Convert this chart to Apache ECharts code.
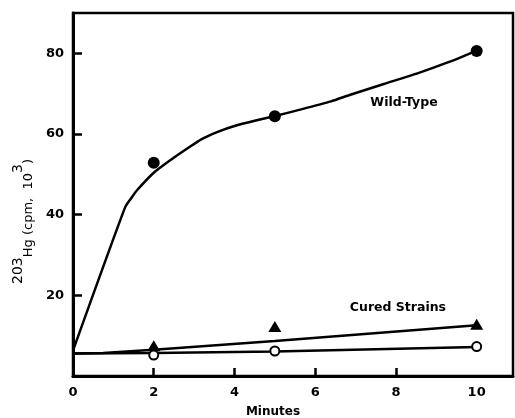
<!DOCTYPE html>
<html>
<head>
<meta charset="utf-8">
<script src="https://cdn.jsdelivr.net/npm/echarts@6/dist/echarts.min.js"></script>
<style>html,body{margin:0;padding:0;background:#fff}#c{width:515px;height:418px}</style>
</head>
<body>
<div id="c"></div>
<script>
// Data
var xTickLabels = [0, 2, 4, 6, 8, 10];
var yTickLabels = [20, 40, 60, 80];
var minutes = [2, 5, 10];
var wildTypeValues = [52.9, 64.4, 80.6];
var curedTriangleValues = [7.5, 12.3, 12.8];
var curedCircleValues = [5.2, 6.2, 7.3];
// hand-drawn curves
var wildCurveX = [0, 1.29, 1.45, 1.58, 2.0, 2.41, 2.83, 3.2, 3.6, 4.0, 4.5, 4.98, 5.65, 6.39, 6.89, 7.7, 8.55, 9.3, 9.96];
var wildCurveY = [6.3, 41.8, 44.2, 46.0, 50.4, 53.5, 56.4, 58.8, 60.6, 62.0, 63.3, 64.4, 66.1, 68.1, 69.8, 72.4, 75.1, 77.8, 80.5];
var triCurveX = [0, 0.75, 2.0, 5.0, 10.0];
var triCurveY = [5.6, 5.7, 6.5, 8.7, 12.6];
var circCurveX = [0, 2.0, 5.0, 10.0];
var circCurveY = [5.6, 5.7, 6.1, 7.2];
var annotations = [["Wild-Type", 8.2, 67.8], ["Cured Strains", 8.05, 16.8]];

function pairs(xs, ys) { return xs.map(function (x, i) { return [x, ys[i]]; }); }

var FONT = 'DejaVu Sans';
var chart = echarts.init(document.getElementById('c'), null, {renderer: 'canvas'});
chart.setOption({
  animation: false,
  backgroundColor: '#fff',
  grid: {left: 73, right: 2, top: 13, bottom: 42, show: true, borderColor: '#000', borderWidth: 2.5,
    backgroundColor: 'transparent', containLabel: false, outerBoundsMode: 'none'},
  xAxis: {
    type: 'value', min: 0, max: 10.9, interval: 2,
    name: 'Minutes', nameLocation: 'middle', nameGap: 30,
    nameTextStyle: {fontFamily: FONT, fontWeight: 'bold', fontSize: 12, color: '#000', padding: [0, 40, 0, 0]},
    axisLine: {show: true, lineStyle: {color: '#000', width: 3}},
    axisTick: {show: true, inside: true, length: 8, lineStyle: {color: '#000', width: 2.5}, customValues: [2, 4, 6, 8]},
    axisLabel: {fontFamily: FONT, fontWeight: 'bold', fontSize: 13, color: '#000', margin: 10, customValues: xTickLabels},
    splitLine: {show: false}
  },
  yAxis: {
    type: 'value', min: 0, max: 90, interval: 20,
    name: '{sup|203}{base|Hg (cpm,  10}{sup|3}{base|)}', nameLocation: 'middle', nameGap: 38, nameRotate: 90,
    nameTextStyle: {
      color: '#000', padding: [0, 54, 0, 0],
      rich: {
        sup: {fontFamily: FONT, fontSize: 14, color: '#000', lineHeight: 12, verticalAlign: 'top'},
        base: {fontFamily: FONT, fontSize: 13, color: '#000', lineHeight: 24, verticalAlign: 'bottom'}
      }
    },
    axisLine: {show: true, lineStyle: {color: '#000', width: 3}},
    axisTick: {show: true, inside: true, length: 9, lineStyle: {color: '#000', width: 2.5}, customValues: yTickLabels},
    axisLabel: {fontFamily: FONT, fontWeight: 'bold', fontSize: 13, color: '#000', margin: 9, customValues: yTickLabels},
    splitLine: {show: false}
  },
  series: [
    {type: 'line', data: pairs(wildCurveX, wildCurveY), smooth: 0.2, showSymbol: false, symbol: 'none',
      lineStyle: {color: '#000', width: 2.5}, z: 2},
    {type: 'line', data: pairs(triCurveX, triCurveY), smooth: false, showSymbol: false, symbol: 'none',
      lineStyle: {color: '#000', width: 2.5}, z: 2},
    {type: 'line', data: pairs(circCurveX, circCurveY), smooth: false, showSymbol: false, symbol: 'none',
      lineStyle: {color: '#000', width: 2.5}, z: 2},
    {type: 'scatter', data: pairs(minutes, wildTypeValues), symbol: 'circle', symbolSize: 12,
      itemStyle: {color: '#000', opacity: 1}, z: 3},
    {type: 'scatter', data: pairs(minutes, curedTriangleValues), symbol: 'triangle', symbolSize: [13, 11],
      itemStyle: {color: '#000', opacity: 1}, z: 3},
    {type: 'scatter', data: pairs(minutes, curedCircleValues), symbol: 'circle', symbolSize: 9,
      itemStyle: {color: '#fff', borderColor: '#000', borderWidth: 2, opacity: 1}, z: 4},
    {type: 'scatter', symbolSize: 0, silent: true, itemStyle: {color: '#000', opacity: 1},
      data: annotations.map(function (a) { return {value: [a[1], a[2]], name: a[0]}; }),
      label: {show: true, position: 'inside', formatter: '{b}', fontFamily: FONT, fontWeight: 'bold', fontSize: 12.5,
        color: '#000', opacity: 1, textBorderWidth: 0, textShadowBlur: 0}, z: 5}
  ]
});
</script>
</body>
</html>
